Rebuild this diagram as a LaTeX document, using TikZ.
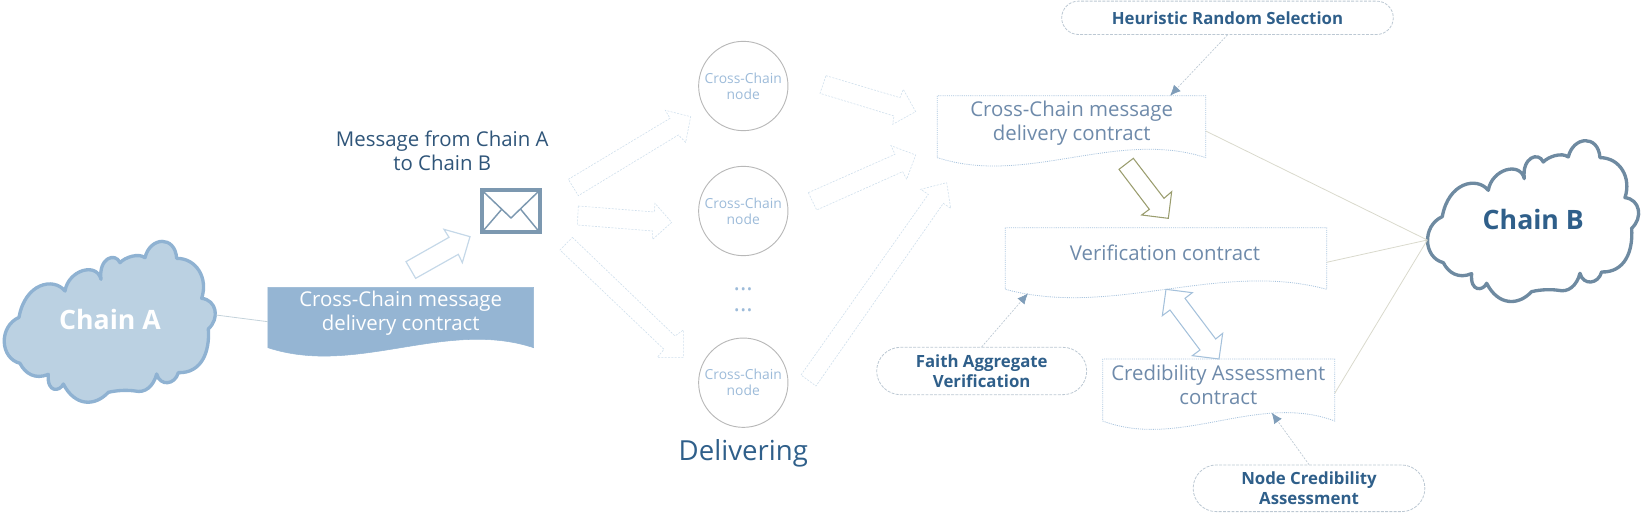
\documentclass[tikz,border=0pt]{standalone}
\usepackage{fontspec}
\setmainfont{Open Sans}
\usetikzlibrary{calc,arrows.meta,shapes.misc}
\definecolor{cafill}{HTML}{BBD1E2}
\definecolor{castroke}{HTML}{8FB2D2}
\definecolor{cbstroke}{HTML}{6E8AA1}
\definecolor{darktxt}{HTML}{2F5F8A}
\definecolor{msgtxt}{HTML}{2F5579}
\definecolor{contxt}{HTML}{6E8AAA}
\definecolor{doca}{HTML}{95B5D3}
\definecolor{nodetxt}{HTML}{9DBBD9}
\definecolor{docline}{HTML}{A9C4DE}
\definecolor{farrow}{HTML}{CFDFEC}
\definecolor{tanline}{HTML}{D9D9CC}
\definecolor{pillline}{HTML}{BCC8D3}
\definecolor{tipblue}{HTML}{7F9DB9}
\definecolor{olive}{HTML}{9A9D6E}
\definecolor{envline}{HTML}{7C98B0}
\newcommand{\cloudshape}{(57,262) .. controls (75,160) and (160,140) .. (195,183)
 .. controls (205,120) and (290,95) .. (303,148)
 .. controls (295,85) and (345,65) .. (360,98)
 .. controls (375,82) and (415,68) .. (435,83)
 .. controls (450,20) and (525,15) .. (530,85)
 .. controls (590,85) and (625,145) .. (605,205)
 .. controls (650,210) and (660,265) .. (625,297)
 .. controls (630,365) and (605,430) .. (535,428)
 .. controls (525,465) and (480,470) .. (470,432)
 .. controls (460,470) and (435,490) .. (405,483)
 .. controls (385,480) and (355,480) .. (325,487)
 .. controls (285,530) and (225,530) .. (190,462)
 .. controls (180,485) and (140,490) .. (145,433)
 .. controls (105,450) and (75,430) .. (60,400)
 .. controls (0,385) and (-5,290) .. (57,262) -- cycle}
\newcommand{\wavedoc}[2]{\draw[#2] (#1.north west) -- (#1.south west)
  .. controls ($(#1.south west)!.333!(#1.south east)+(0,29)$) and ($(#1.south west)!.667!(#1.south east)+(0,-29)$) .. (#1.south east)
  -- (#1.north east) -- cycle;}
\tikzset{
  x=0.75pt,y=-0.75pt,
  docbox/.style={inner sep=0pt,outer sep=0pt,minimum width=#1},
  contracttxt/.style={align=center,text=contxt,inner sep=0pt,font=\fontsize{15.3}{18}\selectfont},
  docdots/.style={draw=docline,line width=0.6pt,dash pattern=on 0.8pt off 0.8pt},
  cnode/.style={circle,draw=black!28,line width=0.7pt,minimum size=67pt,inner sep=0pt,align=center,text=nodetxt,font=\fontsize{10.4}{12}\selectfont},
  pill/.style={rounded rectangle,draw=pillline,line width=0.6pt,dash pattern=on 2.2pt off 1pt,inner sep=0pt,align=center,text=darktxt,font=\bfseries\fontsize{12.6}{14.6}\selectfont},
  garrow/.style={draw=farrow,line width=0.45pt,dash pattern=on 1.5pt off 1pt},
  tanlink/.style={draw=tanline,line width=0.6pt},
  tiplink/.style={draw=pillline,line width=0.5pt,dash pattern=on 1.5pt off 1pt,-{Latex[length=8pt,width=7pt,color=tipblue]}},
}
\begin{document}
\begin{tikzpicture}
\useasboundingbox (0,0) rectangle (1643,517);
% clouds
\begin{scope}[shift={(0,230)},x=.25pt,y=-.25pt]
\draw[fill=cafill,draw=castroke,line width=2.5pt,line join=round] \cloudshape;
\end{scope}
\begin{scope}[shift={(1423.3,129.3)},x=.25pt,y=-.25pt]
\draw[fill=white,draw=cbstroke,line width=2.5pt,line join=round] \cloudshape;
\end{scope}
\node[text=white,font=\bfseries\fontsize{20}{24}\selectfont,inner sep=0pt] (ca) at (110,319.3) {Chain A};
\node[text=darktxt,font=\bfseries\fontsize{20}{24}\selectfont,inner sep=0pt] (cb) at (1533.3,219.3) {Chain B};
\coordinate (caR) at (216,315);
\coordinate (cbL) at (1427.3,240);
% contract documents
\node[docbox=199.3pt,minimum height=45.3pt] (da) at (400.8,317.5) {};
\wavedoc{da}{fill=doca,draw=doca,line width=0.4pt}
\node[contracttxt,text=white] (dat) at (400.7,313) {Cross-Chain message\\delivery contract};
\node[docbox=201.3pt,minimum height=46.4pt] (d1) at (1071.5,126.7) {};
\wavedoc{d1}{docdots}
\node[contracttxt] (d1t) at (1071.7,123.5) {Cross-Chain message\\delivery contract};
\node[docbox=241pt,minimum height=46.2pt] (d2) at (1166,258.5) {};
\wavedoc{d2}{docdots}
\node[contracttxt] (d2t) at (1165,252.7) {Verification contract};
\node[docbox=174pt,minimum height=46.5pt] (d3) at (1218.7,390) {};
\wavedoc{d3}{docdots}
\node[contracttxt] (d3t) at (1218.3,385) {Credibility Assessment\\contract};
% message
\node[align=center,inner sep=0pt,text=msgtxt,font=\fontsize{15.3}{18}\selectfont] (msg) at (442.3,150.7) {Message from Chain A\\to Chain B};
\node[draw=envline,line width=3pt,minimum width=43.3pt,minimum height=31.5pt,inner sep=0pt,outer sep=0pt] (env) at (510.8,211.3) {};
\draw[envline,line width=1.1pt,line join=round] (env.north west) -- (511,218) -- (env.north east);
\draw[envline,line width=1.1pt] (env.south west) -- (501.7,209.3);
\draw[envline,line width=1.1pt] (env.south east) -- (520.7,209.3);
% cross-chain nodes
\node[cnode] (n1) at (743.3,86) {Cross-Chain\\node};
\node[cnode] (n2) at (743.3,211) {Cross-Chain\\node};
\node[cnode] (n3) at (743.3,382.7) {Cross-Chain\\node};
\node[align=center,inner sep=0pt,text=nodetxt,font=\fontsize{18}{15.75}\selectfont] (dots) at (743.3,300) {...\\...};
\node[inner sep=0pt,text=darktxt,font=\fontsize{20.7}{24}\selectfont] (del) at (743.3,453) {Delivering};
% block arrows
\begin{scope}[shift={(250,120)},x=.25pt,y=-.25pt]
\draw[draw=farrow!85!castroke,line width=0.9pt,line join=miter] (468,425) -- (597,352) -- (582,328) -- (660,350) -- (637,428) -- (625,403) -- (497,475) -- cycle;
\end{scope}
\begin{scope}[shift={(540,30)},x=.25pt,y=-.25pt]
\draw[garrow] (85,448) -- (390,265) -- (376,241) -- (452,260) -- (437,337) -- (415,315) -- (115,497) -- cycle;
\draw[garrow] (115,528) -- (343,546) -- (345,520) -- (395,577) -- (338,628) -- (338,603) -- (112,585) -- cycle;
\draw[garrow] (97,622) -- (405,918) -- (430,900) -- (430,982) -- (352,982) -- (372,958) -- (60,660) -- cycle;
\draw[garrow] (858,137) -- (1080,203) -- (1090,178) -- (1127,245) -- (1058,283) -- (1062,258) -- (840,190) -- cycle;
\draw[garrow] (805,488) -- (1065,373) -- (1053,347) -- (1127,375) -- (1100,448) -- (1088,425) -- (830,540) -- cycle;
\draw[garrow] (783,1035) -- (1165,493) -- (1142,478) -- (1220,458) -- (1232,535) -- (1210,520) -- (828,1068) -- cycle;
\end{scope}
\begin{scope}[shift={(860,0)},x=.25pt,y=-.25pt]
\draw[draw=olive,line width=0.8pt] (820,475) -- (912,595) -- (935,575) -- (925,655) -- (845,645) -- (868,628) -- (777,508) -- cycle;
\end{scope}
\begin{scope}[shift={(860,260)},x=.25pt,y=-.25pt]
\draw[draw=castroke!80,line width=0.8pt] (918,88) -- (997,98) -- (975,115) -- (1067,237) -- (1088,220) -- (1077,297) -- (997,287) -- (1020,270) -- (930,150) -- (907,167) -- cycle;
\end{scope}
% pills
\node[pill,minimum width=248.7pt,minimum height=25pt] (p1) at (1227.5,17.8) {Heuristic Random Selection};
\node[pill,minimum width=157.5pt,minimum height=35.5pt] (p2) at (981.7,371) {Faith Aggregate\\Verification};
\node[pill,minimum width=173.8pt,minimum height=35pt] (p3) at (1309,488.3) {Node Credibility\\Assessment};
% connectors
\draw[draw=cafill!70!tanline,line width=0.6pt] (caR) -- ([yshift=-4.2*0.75pt]da.west);
\draw[tanlink] ([yshift=-4.3*0.75pt]d1.east) -- (cbL);
\draw[tanlink] ([yshift=-3.8*0.75pt]d2.east) -- (cbL);
\draw[tanlink] ([yshift=-3.3*0.75pt]d3.east) -- (cbL);
\draw[tiplink] (p1.south) -- ([xshift=98.5*0.75pt]d1.north);
\draw[tiplink] (p2.north) -- ([xshift=-138*0.75pt,yshift=-4*0.75pt]d2.south);
\draw[tiplink] (p3.north) -- ([xshift=53*0.75pt,yshift=8.3*0.75pt]d3.south);
\end{tikzpicture}
\end{document}
